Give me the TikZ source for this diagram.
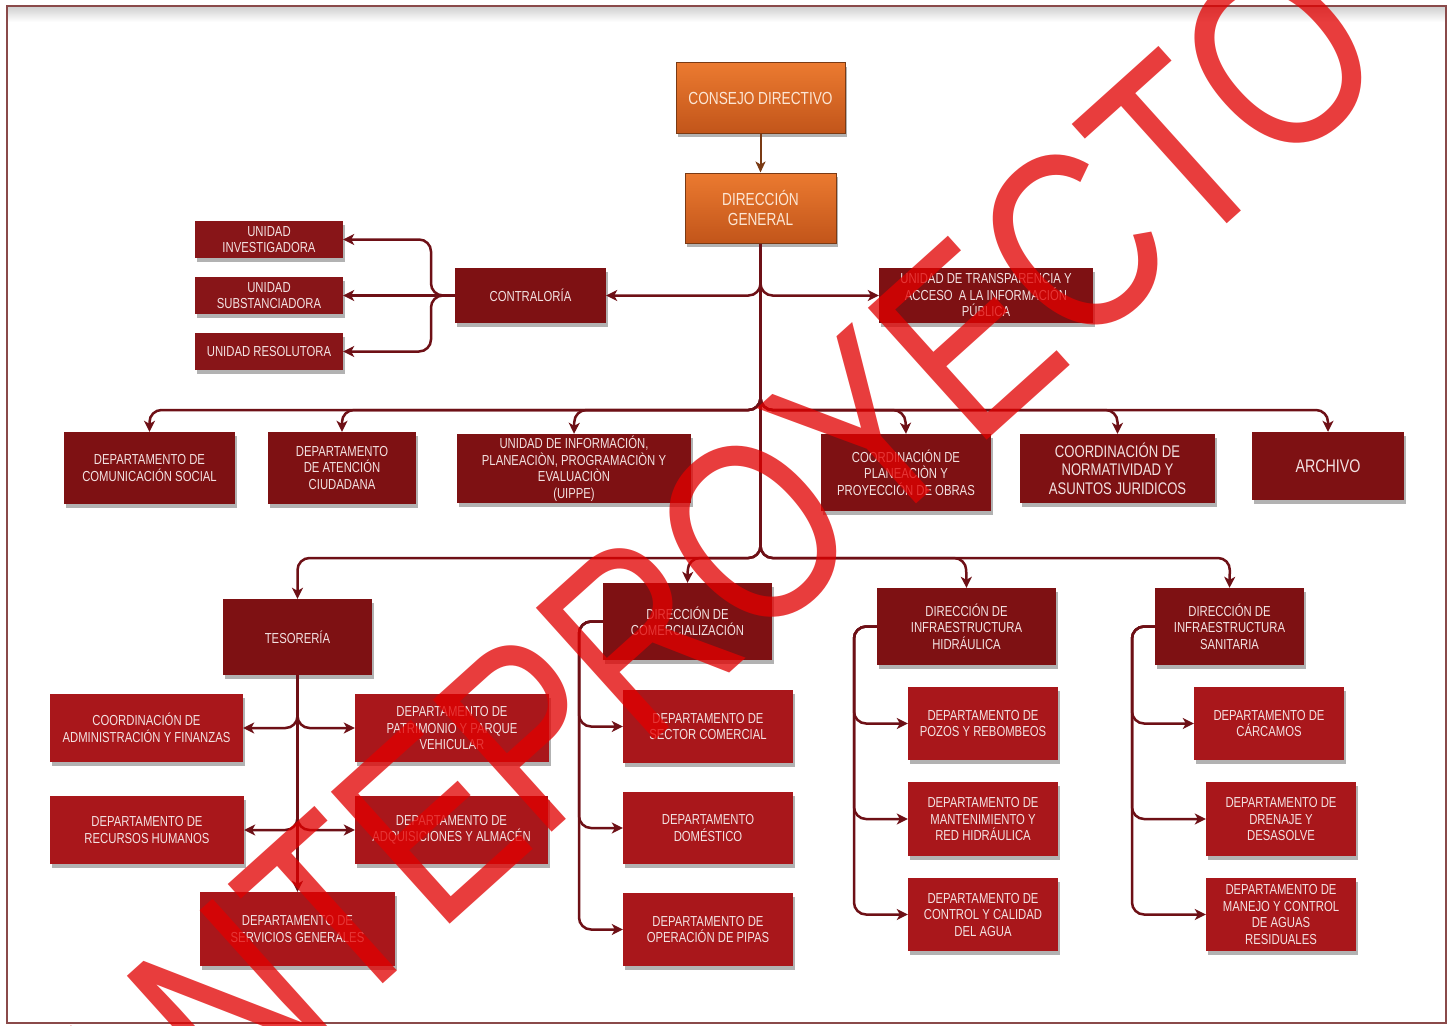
\documentclass[tikz,border=0pt]{standalone}
\usepackage{fontspec}
\setmainfont[FakeStretch=0.78]{Liberation Sans}
\newfontfamily\wmfont[FakeStretch=0.80]{Liberation Sans}
\usetikzlibrary{arrows.meta,shadows}
\definecolor{darkbox}{HTML}{7E1113}
\definecolor{unibox}{HTML}{881518}
\definecolor{lightbox}{HTML}{A9171B}
\definecolor{txt}{HTML}{F3E2E2}
\definecolor{orA}{HTML}{EB7A30}
\definecolor{orB}{HTML}{C2551A}
\definecolor{orD}{HTML}{7A3A14}
\definecolor{otxt}{HTML}{FCE6D4}
\definecolor{lc}{HTML}{6E1016}
\definecolor{frame}{HTML}{8A4A4A}
\definecolor{wm}{RGB}{225,0,0}
\tikzset{
 orgbox/.style={rectangle, inner sep=0pt, align=center,
   font=\fontsize{14.5}{16.5}\selectfont, text=txt,
   drop shadow={shadow xshift=1.5pt, shadow yshift=-4pt, fill=black, opacity=0.3}},
 darkb/.style={orgbox, fill=darkbox},
 unib/.style={orgbox, fill=unibox},
 lightb/.style={orgbox, fill=lightbox},
 orangeb/.style={orgbox, top color=orA, bottom color=orB, draw=orD, line width=1pt,
   text=otxt, font=\fontsize{17.5}{20}\selectfont},
 conn/.style={draw=lc, line width=2.5pt, rounded corners=12pt},
 arr/.style={conn, -{Stealth[length=11pt, width=11pt, inset=3pt]}},
}
\begin{document}
\begin{tikzpicture}[x=1pt, y=-1pt]
\useasboundingbox (0,0) rectangle (1453,1025);
\fill[white] (0,0) rectangle (1453,1025);
\shade[top color=black!18, bottom color=white] (8,7) rectangle (1445,22);
\draw[frame, line width=1.3pt] (7,6) rectangle (1446,1023);

% top
\node[orangeb, minimum width=169pt, minimum height=70pt] (consejo) at (760.5,98) {CONSEJO DIRECTIVO};
\node[orangeb, minimum width=151pt, minimum height=70pt] (dg) at (760.5,208) {DIRECCIÓN\\GENERAL};

\node[darkb, minimum width=151pt, minimum height=55pt] (contra) at (530.5,295.5) {CONTRALORÍA};
\node[darkb, minimum width=214pt, minimum height=55pt] (transp) at (986,295.5) {UNIDAD DE TRANSPARENCIA Y\\ACCESO \ A LA INFORMACIÓN\\PÚBLICA};

\node[unib, minimum width=148pt, minimum height=37pt] (inv) at (269,239.5) {UNIDAD\\INVESTIGADORA};
\node[unib, minimum width=148pt, minimum height=37pt] (subs) at (269,295.5) {UNIDAD\\SUBSTANCIADORA};
\node[unib, minimum width=148pt, minimum height=37pt] (reso) at (269,351.5) {UNIDAD RESOLUTORA};

% row 2
\node[darkb, minimum width=171pt, minimum height=72pt] (com) at (149.5,468) {DEPARTAMENTO DE\\COMUNICACIÓN SOCIAL};
\node[darkb, minimum width=148pt, minimum height=72pt] (ate) at (342,468) {DEPARTAMENTO\\DE ATENCIÓN\\CIUDADANA};
\node[darkb, minimum width=234pt, minimum height=69pt] (uippe) at (574,468.5) {UNIDAD DE INFORMACIÓN,\\PLANEACIÒN, PROGRAMACIÒN Y\\EVALUACIÒN\\(UIPPE)};
\node[darkb, minimum width=170pt, minimum height=77pt] (plan) at (906,472.5) {COORDINACIÓN DE\\PLANEACIÒN Y\\PROYECCIÓN DE OBRAS};
\node[darkb, minimum width=195pt, minimum height=69pt, font=\fontsize{16.8}{18.5}\selectfont] (norm) at (1117.5,468.5) {COORDINACIÓN DE\\NORMATIVIDAD Y\\ASUNTOS JURIDICOS};
\node[darkb, minimum width=152pt, minimum height=68pt, font=\fontsize{18.3}{20}\selectfont] (arch) at (1328,466) {ARCHIVO};

% row 3
\node[darkb, minimum width=149pt, minimum height=76pt] (tes) at (297.5,637) {TESORERÍA};
\node[darkb, minimum width=169pt, minimum height=77pt] (comer) at (687.5,621.5) {DIRECCIÓN DE\\COMERCIALIZACIÓN};
\node[darkb, minimum width=179pt, minimum height=77pt] (hidr) at (966.5,626.5) {DIRECCIÓN DE\\INFRAESTRUCTURA\\HIDRÁULICA};
\node[darkb, minimum width=149pt, minimum height=77pt] (sani) at (1229.5,626.5) {DIRECCIÓN DE\\INFRAESTRUCTURA\\SANITARIA};

% tesoreria children
\node[lightb, minimum width=193pt, minimum height=68pt] (adm) at (146.5,728) {COORDINACIÓN DE\\ADMINISTRACIÓN Y FINANZAS};
\node[lightb, minimum width=194pt, minimum height=68pt] (pat) at (452,728) {DEPARTAMENTO DE\\PATRIMONIO Y PARQUE\\VEHICULAR};
\node[lightb, minimum width=194pt, minimum height=68pt] (rh) at (147,830) {DEPARTAMENTO DE\\RECURSOS HUMANOS};
\node[lightb, minimum width=193pt, minimum height=68pt] (adq) at (451.5,830) {DEPARTAMENTO DE\\ADQUISICIONES Y ALMACÉN};
\node[lightb, minimum width=195pt, minimum height=74pt] (serv) at (297.5,929) {DEPARTAMENTO DE\\SERVICIOS GENERALES};

% comercializacion children
\node[lightb, minimum width=170pt, minimum height=73pt] (sect) at (708,726.5) {DEPARTAMENTO DE\\SECTOR COMERCIAL};
\node[lightb, minimum width=170pt, minimum height=72pt] (dom) at (708,828) {DEPARTAMENTO\\DOMÉSTICO};
\node[lightb, minimum width=170pt, minimum height=73pt] (pipas) at (708,929.5) {DEPARTAMENTO DE\\OPERACIÓN DE PIPAS};

% hidraulica children
\node[lightb, minimum width=150pt, minimum height=73pt] (pozos) at (983,723.5) {DEPARTAMENTO DE\\POZOS Y REBOMBEOS};
\node[lightb, minimum width=150pt, minimum height=74pt] (mant) at (983,819) {DEPARTAMENTO DE\\MANTENIMIENTO Y\\RED HIDRÁULICA};
\node[lightb, minimum width=150pt, minimum height=73pt] (ctrl) at (983,914.5) {DEPARTAMENTO DE\\CONTROL Y CALIDAD\\DEL AGUA};

% sanitaria children
\node[lightb, minimum width=150pt, minimum height=73pt] (carc) at (1269,723.5) {DEPARTAMENTO DE\\CÁRCAMOS};
\node[lightb, minimum width=150pt, minimum height=74pt] (dren) at (1281,819) {DEPARTAMENTO DE\\DRENAJE Y\\DESASOLVE};
\node[lightb, minimum width=150pt, minimum height=73pt] (manejo) at (1281,914.5) {DEPARTAMENTO DE\\MANEJO Y CONTROL\\DE AGUAS\\RESIDUALES};

% connectors
\draw[draw=orD, line width=2pt, -{Stealth[length=11pt, width=10pt, inset=3pt]}] (consejo.south) -- (dg.north);
\coordinate (t1) at (760.5,275);
\coordinate (t2) at (760.5,390);
\coordinate (t3) at (760.5,538);
\draw[conn] (dg.south) -- (760.5,545);
\draw[arr] (t1) |- (contra.east);
\draw[arr] (t1) |- (transp.west);

\coordinate (cj) at (431,295.5);
\draw[arr] (contra.west) -- (cj) |- (inv.east);
\draw[arr] (contra.west) -- (subs.east);
\draw[arr] (contra.west) -- (cj) |- (reso.east);

\foreach \n/\xx in {com/149.5, ate/342, uippe/574.5, plan/905, norm/1117.5, arch/1328}{
  \draw[arr] (t2) |- (\xx,410) -- (\n.north);
}
\foreach \n/\xx in {tes/297.5, comer/688, hidr/966, sani/1230}{
  \draw[arr] (t3) |- (\xx,558) -- (\n.north);
}

\draw[arr] (tes.south) -- (serv.north);
\coordinate (ta) at (297.5,712);
\coordinate (tb) at (297.5,814);
\draw[arr] (ta) |- (adm.east);
\draw[arr] (ta) |- (pat.west);
\draw[arr] (tb) |- (rh.east);
\draw[arr] (tb) |- (adq.west);

\coordinate (cc) at (579,621.5);
\foreach \n in {sect, dom, pipas}{ \draw[arr] (comer.west) -- (cc) |- (\n.west); }
\coordinate (hc) at (854,626.5);
\foreach \n in {pozos, mant, ctrl}{ \draw[arr] (hidr.west) -- (hc) |- (\n.west); }
\coordinate (sc) at (1132,626.5);
\foreach \n in {carc, dren, manejo}{ \draw[arr] (sani.west) -- (sc) |- (\n.west); }

% watermark
\begin{scope}
\clip (0,0) rectangle (1453,1025);
\node[text=wm, opacity=0.76, rotate=42, inner sep=0pt, font=\wmfont\fontsize{258}{258}\selectfont] (wmark) at (705,575) {ANTEPROYECTO};
\end{scope}
\end{tikzpicture}
\end{document}
